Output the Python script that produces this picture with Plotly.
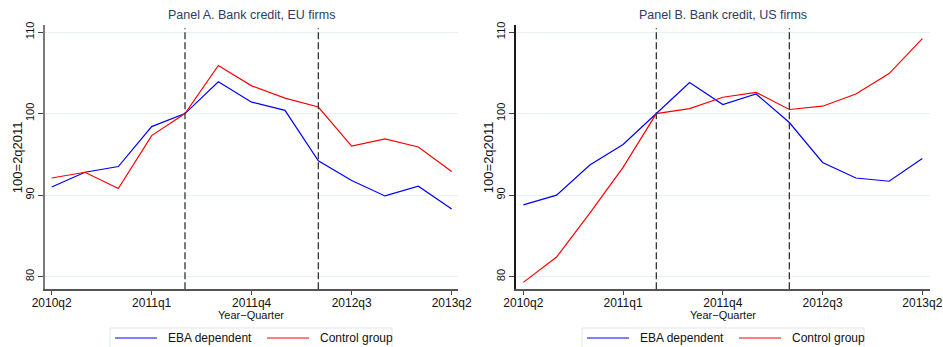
import plotly.graph_objects as go

# Quarterly bank credit indices, 2011q2 = 100
quarters = ["2010q2", "2010q3", "2010q4", "2011q1", "2011q2", "2011q3", "2011q4",
            "2012q1", "2012q2", "2012q3", "2012q4", "2013q1", "2013q2"]
tick_quarters = ["2010q2", "2011q1", "2011q4", "2012q3", "2013q2"]
event_quarters = ["2011q2", "2012q2"]

eu_eba = [91.0, 92.8, 93.5, 98.4, 100.0, 103.9, 101.4, 100.4, 94.2, 91.8, 89.9, 91.1, 88.3]
eu_control = [92.1, 92.8, 90.8, 97.3, 100.0, 105.9, 103.4, 101.9, 100.8, 96.0, 96.9, 95.9, 92.9]
us_eba = [88.8, 90.0, 93.7, 96.2, 100.0, 103.8, 101.1, 102.4, 98.9, 94.0, 92.1, 91.7, 94.5]
us_control = [79.3, 82.4, 87.8, 93.4, 100.0, 100.6, 102.0, 102.6, 100.5, 100.9, 102.4, 104.9, 109.2]

series_names = ["EBA dependent", "Control group"]
series_colors = ["#0000ff", "#ff0000"]
panel_titles = ["Panel A. Bank credit, EU firms", "Panel B. Bank credit, US firms"]
y_ticks = [80, 90, 100, 110]

W, H = 943, 347
FONT = "Liberation Sans, Arial, sans-serif"


def px_x(p):
    return p / W


def px_y(p):
    return 1 - p / H


# plot-area boxes in pixels: (left, right, top, bottom)
panels = [
    dict(box=(45, 458, 25, 289.3), xr=[-0.2, 12.19], yline="#7a7a7a",
         data=[eu_eba, eu_control], ytitle_x=17, legend_x=110),
    dict(box=(516, 930, 25, 289.3), xr=[-0.22, 12.23], yline="#1a1a1a",
         data=[us_eba, us_control], ytitle_x=488, legend_x=582),
]

fig = go.Figure()
shapes = []
annotations = []

for i, pnl in enumerate(panels):
    n = "" if i == 0 else str(i + 1)
    left, right, top, bottom = pnl["box"]
    for vals, name, color in zip(pnl["data"], series_names, series_colors):
        fig.add_trace(go.Scatter(
            x=quarters, y=vals, name=name, mode="lines",
            line=dict(color=color, width=1.2),
            xaxis="x" + n, yaxis="y" + n, showlegend=False,
        ))

    fig.layout["xaxis" + n] = dict(
        type="category", categoryorder="array", categoryarray=quarters,
        domain=[px_x(left), px_x(right)], range=pnl["xr"], automargin=False,
        tickmode="array", tickvals=tick_quarters, ticktext=tick_quarters,
        ticks="outside", ticklen=4, tickwidth=1, tickcolor="#444",
        ticklabelstandoff=-2,
        showline=True, linecolor="#555", linewidth=1.5, showgrid=False,
        zeroline=False, anchor="y" + n,
        tickfont=dict(family=FONT, size=12, color="#111"),
    )
    fig.layout["yaxis" + n] = dict(
        domain=[px_y(bottom), px_y(top)], range=[78.45, 110.86], automargin=False,
        tickmode="array", tickvals=y_ticks, tickangle=-90,
        ticks="outside", ticklen=5, tickwidth=1, tickcolor="#444",
        showline=True, linecolor=pnl["yline"], linewidth=1.5,
        showgrid=True, gridcolor="#e8f0f2", gridwidth=1, zeroline=False,
        anchor="x" + n,
        tickfont=dict(family=FONT, size=11, color="#111"),
    )

    # event markers
    for q in event_quarters:
        shapes.append(dict(
            type="line", xref="x" + n, yref="y" + n + " domain",
            x0=q, x1=q, y0=0, y1=0.988,
            line=dict(color="#333333", width=1.3, dash="7px,3px"),
        ))

    cx = (left + right) / 2
    annotations.append(dict(
        text=panel_titles[i], xref="paper", yref="paper",
        x=px_x(cx), y=px_y(15), xanchor="center", yanchor="middle",
        showarrow=False, font=dict(family=FONT, size=12.5, color="#2e3b63"),
    ))
    annotations.append(dict(
        text="100=2q2011", xref="paper", yref="paper", textangle=-90,
        x=px_x(pnl["ytitle_x"]), y=px_y((top + bottom) / 2),
        xanchor="center", yanchor="middle", showarrow=False,
        font=dict(family=FONT, size=13, color="#111"),
    ))
    annotations.append(dict(
        text="Year\u2212Quarter", xref="paper", yref="paper",
        x=px_x(cx), y=px_y(315), xanchor="center", yanchor="middle",
        showarrow=False, font=dict(family=FONT, size=11, color="#111"),
    ))

    # legend box with two entries
    lx = pnl["legend_x"]
    shapes.append(dict(
        type="rect", xref="paper", yref="paper",
        x0=px_x(lx), x1=px_x(lx + 282), y0=px_y(352), y1=px_y(328),
        line=dict(color="#dfe7ea", width=1), fillcolor="white", layer="below",
    ))
    for k, (name, color) in enumerate(zip(series_names, series_colors)):
        sx = lx + 5 + k * 152
        shapes.append(dict(
            type="line", xref="paper", yref="paper",
            x0=px_x(sx), x1=px_x(sx + 42), y0=px_y(338), y1=px_y(338),
            line=dict(color=color, width=1.2),
        ))
        annotations.append(dict(
            text=name, xref="paper", yref="paper",
            x=px_x(sx + 51), y=px_y(338), xanchor="left", yanchor="middle",
            showarrow=False, font=dict(family=FONT, size=12, color="#111"),
        ))

fig.update_layout(
    width=W, height=H, autosize=False,
    margin=dict(l=0, r=0, t=0, b=0),
    paper_bgcolor="white", plot_bgcolor="white",
    shapes=shapes, annotations=annotations, showlegend=False,
)

fig.write_html("out.html")
